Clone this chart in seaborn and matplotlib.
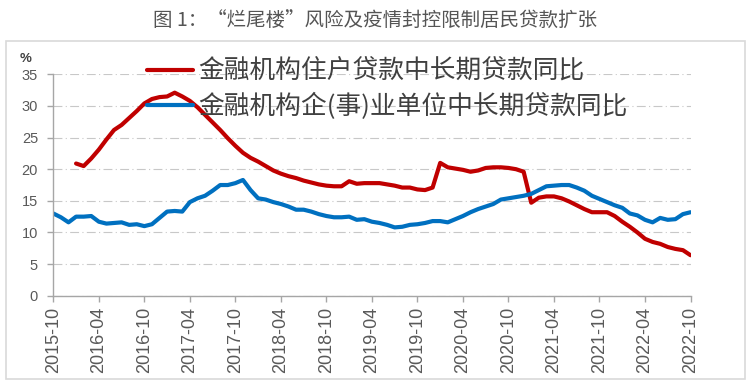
import numpy as np
import pandas as pd
import matplotlib
matplotlib.use('Agg')
import matplotlib.pyplot as plt
import seaborn as sns
from matplotlib.patches import Rectangle

# monthly, 2015-10 .. 2022-10
months = pd.period_range('2015-10', '2022-10', freq='M').strftime('%Y-%m').tolist()

household = [np.nan, np.nan, np.nan,
             20.9, 20.5, 21.7, 23.1, 24.7, 26.2, 27.0, 28.1, 29.2, 30.4, 31.1, 31.4,
             31.5, 32.1, 31.5, 30.8, 29.8, 28.6, 27.4, 26.2, 24.9, 23.7, 22.6, 21.8,
             21.2, 20.5, 19.8, 19.3, 18.9, 18.6, 18.2, 17.9, 17.6, 17.4, 17.3, 17.3,
             18.1, 17.7, 17.8, 17.8, 17.8, 17.6, 17.4, 17.1, 17.1, 16.8, 16.7, 17.1,
             21.0, 20.3, 20.1, 19.9, 19.6, 19.8, 20.2, 20.3, 20.3, 20.2, 20.0, 19.6,
             14.7, 15.5, 15.7, 15.7, 15.4, 14.9, 14.3, 13.7, 13.2, 13.2, 13.2, 12.6,
             11.7, 10.9, 10.0, 9.0, 8.5, 8.2, 7.7, 7.4, 7.2, 6.4]

enterprise = [13.0, 12.4, 11.6, 12.5, 12.5, 12.6, 11.7, 11.4, 11.5, 11.6, 11.2, 11.3,
              11.0, 11.3, 12.3, 13.3, 13.4, 13.3, 14.8, 15.4, 15.8, 16.6, 17.5, 17.5,
              17.8, 18.3, 16.7, 15.4, 15.2, 14.8, 14.5, 14.1, 13.6, 13.6, 13.3, 12.9,
              12.6, 12.4, 12.4, 12.5, 12.0, 12.1, 11.7, 11.5, 11.2, 10.8, 10.9, 11.2,
              11.3, 11.5, 11.8, 11.8, 11.6, 12.1, 12.6, 13.2, 13.7, 14.1, 14.5, 15.2,
              15.4, 15.6, 15.8, 16.1, 16.7, 17.3, 17.4, 17.5, 17.5, 17.1, 16.6, 15.8,
              15.3, 14.8, 14.3, 13.9, 13.0, 12.7, 12.0, 11.6, 12.3, 12.0, 12.1, 12.9, 13.2]

label_house = '金融机构住户贷款中长期贷款同比'
label_ent = '金融机构企(事)业单位中长期贷款同比'
title = '图 1：“烂尾楼”风险及疫情封控限制居民贷款扩张'

df = pd.DataFrame({'idx': range(len(months)), 'month': months,
                   label_house: household, label_ent: enterprise})
long = df.melt(id_vars=['idx', 'month'], var_name='series', value_name='val').dropna()

sns.set_theme(style='white')
plt.rcParams['font.family'] = ['Liberation Sans', 'Noto Sans CJK SC', 'DejaVu Sans']

fig = plt.figure(figsize=(7.5, 3.87), dpi=100)
ax = fig.add_axes([0.0711, 0.2359, 0.8496, 0.572])

sns.lineplot(data=long, x='idx', y='val', hue='series',
             hue_order=[label_house, label_ent],
             palette=['#C00000', '#0070C0'], linewidth=3, ax=ax)

ax.set_xlim(0, len(months) - 1)
ax.set_ylim(0, 35)
ax.set_yticks(range(0, 36, 5))
ax.set_xticks(range(0, len(months), 6))
ax.set_xticklabels(months[::6], rotation=90)
ax.set_xlabel('')
ax.set_ylabel('')

ax.yaxis.grid(True, color='#c8c8c8', linestyle=(0, (8, 3, 1, 3)), linewidth=0.8)
ax.xaxis.grid(False)
for s in ['top', 'right']:
    ax.spines[s].set_visible(False)
for s in ['left', 'bottom']:
    ax.spines[s].set_color('#a6a6a6')
    ax.spines[s].set_linewidth(1)
ax.tick_params(axis='y', which='major', left=True, length=4, width=1, color='#a6a6a6',
               pad=7, labelsize=10.5, labelcolor='#595959')
ax.tick_params(axis='x', which='major', bottom=True, length=4, width=1, color='#a6a6a6',
               pad=4, labelsize=13, labelcolor='#595959')

leg = ax.legend(loc='upper left', bbox_to_anchor=(0.196, 0.848), bbox_transform=fig.transFigure,
                frameon=False, borderpad=0, borderaxespad=0, handlelength=1.8,
                handletextpad=0.2, labelspacing=0.33,
                prop={'family': 'Noto Sans CJK SC', 'size': 18.5})
for t in leg.get_texts():
    t.set_color('#404040')

fig.text(0.0267, 0.848, '%', fontsize=9.5, fontweight='bold', color='#404040',
         ha='left', va='center')
fig.text(0.5, 0.945, title, fontsize=14, color='#555555', ha='center', va='center',
         family=['Noto Sans CJK SC', 'DejaVu Sans'])

fig.patches.append(Rectangle((0.008, 0.02), 0.985, 0.875, transform=fig.transFigure,
                             fill=False, edgecolor='#d9d9d9', linewidth=1.2))

fig.savefig('out.png', dpi=100)
